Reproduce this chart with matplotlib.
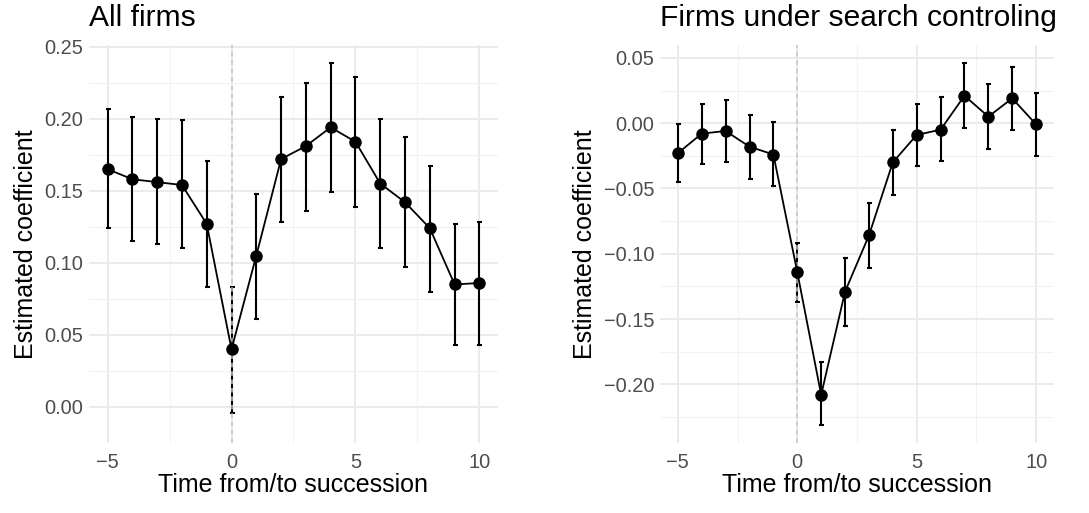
import matplotlib.pyplot as plt
import numpy as np

plt.rcParams['font.family'] = ['Liberation Sans', 'DejaVu Sans']

periods = list(range(-5, 11))

# all firms
all_est = [0.165, 0.158, 0.156, 0.154, 0.127, 0.040, 0.105, 0.172,
           0.181, 0.194, 0.184, 0.155, 0.142, 0.124, 0.085, 0.086]
all_lo = [0.124, 0.115, 0.113, 0.110, 0.083, -0.004, 0.061, 0.128,
          0.136, 0.149, 0.139, 0.110, 0.097, 0.080, 0.043, 0.043]
all_hi = [0.207, 0.201, 0.200, 0.199, 0.171, 0.083, 0.148, 0.215,
          0.225, 0.239, 0.229, 0.200, 0.187, 0.167, 0.127, 0.128]

# firms under search
srch_est = [-0.023, -0.008, -0.006, -0.018, -0.024, -0.114, -0.208, -0.129,
            -0.086, -0.030, -0.009, -0.005, 0.021, 0.005, 0.019, -0.001]
srch_lo = [-0.045, -0.031, -0.030, -0.043, -0.048, -0.137, -0.231, -0.155,
           -0.111, -0.055, -0.033, -0.029, -0.004, -0.020, -0.005, -0.025]
srch_hi = [-0.001, 0.015, 0.018, 0.006, 0.001, -0.092, -0.183, -0.103,
           -0.061, -0.005, 0.015, 0.020, 0.046, 0.030, 0.043, 0.023]

titles = ["All firms", "Firms under search controling"]
y_ticks = [[0.00, 0.05, 0.10, 0.15, 0.20, 0.25],
           [-0.20, -0.15, -0.10, -0.05, 0.00, 0.05]]


def draw_panel(ax, est, lo, hi, title, yt):
    x = np.array(periods)
    est = np.array(est)
    yerr = [est - np.array(lo), np.array(hi) - est]
    ax.errorbar(x, est, yerr=yerr, fmt='none', ecolor='black',
                elinewidth=1.5, capsize=1.8, capthick=1.5, zorder=2)
    ax.axvline(0, color='#C4C4C4', linestyle=(0, (3, 2.5)), linewidth=1.1, zorder=3)
    ax.plot(x, est, color='black', linewidth=1.3, zorder=4)
    ax.plot(x, est, 'o', color='black', markersize=8, zorder=5)

    lo_all = min(lo)
    hi_all = max(hi)
    pad = (hi_all - lo_all) * 0.05
    ax.set_ylim(lo_all - pad, hi_all + pad)
    ax.set_xlim(-5.75, 10.75)

    ax.set_xticks([-5, 0, 5, 10])
    ax.set_xticklabels(['\u22125', '0', '5', '10'])
    ax.set_xticks([-2.5, 2.5, 7.5], minor=True)
    ax.set_yticks(yt)
    ax.set_yticklabels([f"{v:.2f}".replace('-', '\u2212') for v in yt])
    step = yt[1] - yt[0]
    ax.set_yticks([v + step / 2 for v in yt[:-1]] + [yt[0] - step / 2], minor=True)

    ax.grid(which='major', color='#EBEBEB', linewidth=1.4)
    ax.grid(which='minor', color='#F2F2F2', linewidth=0.8)
    ax.set_axisbelow(True)
    for s in ax.spines.values():
        s.set_visible(False)
    ax.tick_params(which='both', length=0, labelsize=14.4, labelcolor='#4D4D4D')
    ax.tick_params(axis='x', pad=7)
    ax.tick_params(axis='y', pad=4)

    ax.set_xlabel("Time from/to succession", fontsize=18, labelpad=1)
    ax.set_ylabel("Estimated coefficient", fontsize=18, labelpad=5)
    ax.set_title(title, loc='left', fontsize=21.6, pad=14)


fig = plt.figure(figsize=(10.89, 5.13), dpi=100)
ax1 = fig.add_axes([0.0817, 0.1365, 0.3756, 0.7758])
ax2 = fig.add_axes([0.606, 0.1365, 0.3619, 0.7758])

draw_panel(ax1, all_est, all_lo, all_hi, titles[0], y_ticks[0])
draw_panel(ax2, srch_est, srch_lo, srch_hi, titles[1], y_ticks[1])

fig.savefig("out.png", dpi=100)
